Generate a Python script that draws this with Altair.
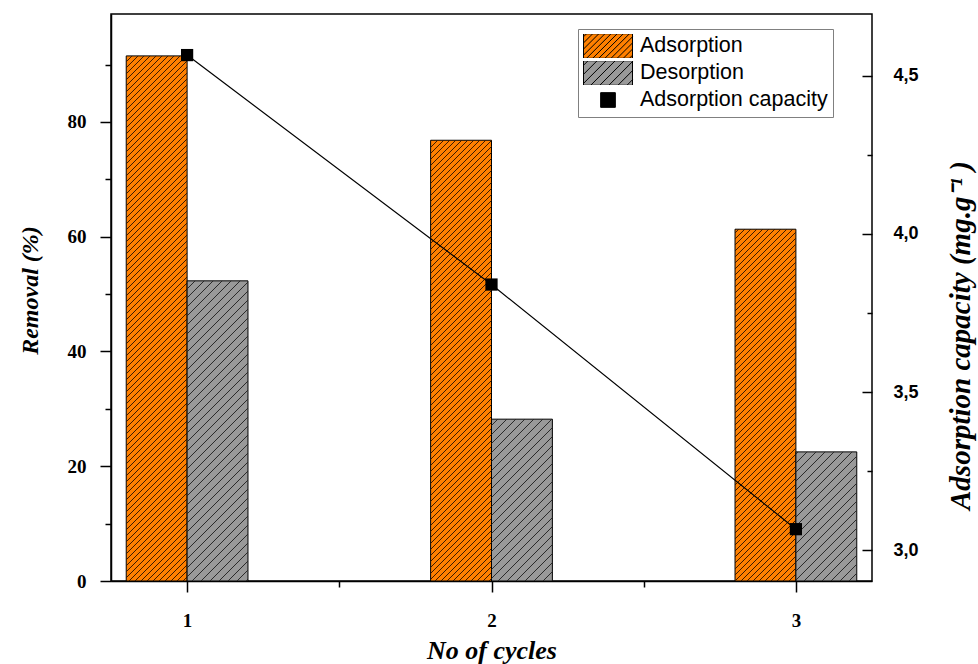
import altair as alt
import pandas as pd

# ---- data -------------------------------------------------------------
cycles = [1, 2, 3]
adsorption = [91.5, 76.8, 61.3]          # removal (%) during adsorption
desorption = [52.3, 28.2, 22.5]          # removal (%) during desorption
capacity = [4.566, 3.84, 3.066]          # adsorption capacity (mg/g)
series_names = ["Adsorption", "Desorption", "Adsorption capacity"]

cycle_ticks = [1, 1.5, 2, 2.5, 3]
removal_ticks = [0, 10, 20, 30, 40, 50, 60, 70, 80, 90]
capacity_ticks = [3.0, 3.25, 3.5, 3.75, 4.0, 4.25, 4.5]

# ---- layout / style ---------------------------------------------------
W, H = 761, 567
X_DOMAIN = [0.75, 3.25]
REMOVAL_DOMAIN = [0, 98.8]
CAPACITY_DOMAIN = [2.902, 4.696]
BAR_W = 0.2
PX_X = W / (X_DOMAIN[1] - X_DOMAIN[0])
PX_Y = H / (REMOVAL_DOMAIN[1] - REMOVAL_DOMAIN[0])

ORANGE = "#FF8000"
GREY = "#999999"
SERIF = "Liberation Serif"
SANS = "Liberation Sans"


def bar_frame(values, side):
    rows = []
    for c, v in zip(cycles, values):
        x0 = c - BAR_W if side == "left" else c
        rows.append({"x0": x0, "x1": x0 + BAR_W, "value": v, "base": 0})
    return pd.DataFrame(rows)


def hatch_frame(bars, spacing):
    """Diagonal '/' hatch segments clipped to each bar, in data units."""
    rows = []
    for _, b in bars.iterrows():
        w = (b.x1 - b.x0) * PX_X
        h = b.value * PX_Y
        phase = ((b.x0 - X_DOMAIN[0]) * PX_X) % spacing
        k = phase - spacing * (int((w + phase) // spacing) + 1)
        while k < h:
            sx, sy = (0.0, k) if k >= 0 else (-k, 0.0)
            ex = min(w, h - k)
            ey = ex + k
            if ex > sx:
                rows.append({
                    "hx": b.x0 + sx / PX_X, "hx2": b.x0 + ex / PX_X,
                    "hy": sy / PX_Y, "hy2": ey / PX_Y,
                })
            k += spacing
    return pd.DataFrame(rows)


def hatch_symbol(step):
    """Legend swatch: 2:1 rectangle with '/' hatching (unit symbol box)."""
    parts = ["M-1,-0.5H1V0.5H-1Z"]
    c = -1.5 + step / 2
    while c < 1.5:
        a = max(-1.0, c - 0.5)
        b = min(1.0, c + 0.5)
        parts.append(f"M{a:.3f},{c - a:.3f}L{b:.3f},{c - b:.3f}")
        c += step
    return "".join(parts)


ads_df = bar_frame(adsorption, "left")
des_df = bar_frame(desorption, "right")
ads_hatch = hatch_frame(ads_df, 6)
des_hatch = hatch_frame(des_df, 9)
cap_df = pd.DataFrame({"cycle": cycles, "capacity": capacity})
legend_df = pd.DataFrame({
    "cycle": cycles + cycles,
    "value": adsorption + desorption,
    "series": ["Adsorption"] * 3 + ["Desorption"] * 3,
})


def minor_dash(test, length):
    return {"condition": {"test": test, "value": [length, 40]}, "value": []}


x_axis = alt.Axis(
    values=cycle_ticks,
    labelExpr="datum.value % 1 === 0 ? format(datum.value, 'd') : ''",
    tickDash=minor_dash("datum.value % 1 !== 0", 6), tickSize=11,
    tickColor="black", tickWidth=1.5, domainColor="black", domainWidth=1.5,
    labelPadding=19, labelFont=SERIF, labelFontWeight="bold", labelFontSize=19,
    labelColor="black", labelFlush=False, labelOverlap=False, grid=False,
    title="No of cycles", titleFont=SERIF, titleFontStyle="italic",
    titleFontWeight="bold", titleFontSize=26, titleColor="black",
    titleX=W / 2, titleY=69, titleBaseline="middle",
)

left_axis = alt.Axis(
    orient="left", values=removal_ticks,
    labelExpr="datum.value % 20 === 0 ? datum.label : ''",
    tickDash=minor_dash("datum.value % 20 !== 0", 6), tickSize=11,
    tickColor="black", tickWidth=1.5, domainColor="black", domainWidth=1.5,
    labelPadding=14, labelFont=SERIF, labelFontWeight="bold", labelFontSize=19,
    labelColor="black", labelOverlap=False, grid=False,
    title="Removal (%)", titleFont=SERIF, titleFontStyle="italic",
    titleFontWeight="bold", titleFontSize=24, titleColor="black",
    titleX=-81, titleY=276, titleBaseline="middle",
)

# capacity axis: labels and title outside the right frame edge ...
right_label_axis = alt.Axis(
    orient="right", values=capacity_ticks, ticks=False, domain=False,
    labelExpr="abs(datum.value * 2 - round(datum.value * 2)) < 0.01 ? "
              "replace(format(datum.value, '.1f'), '.', ',') : ''",
    labelAlign="left", labelPadding=21, labelFont=SANS, labelFontWeight="bold",
    labelFontSize=18, labelColor="black", labelOverlap=False, grid=False,
    title="Adsorption capacity (mg.g⁻¹ )", titleFont=SERIF, titleFontStyle="italic",
    titleFontWeight="bold", titleFontSize=29, titleColor="black",
    titleX=88, titleY=321, titleBaseline="middle", titleAngle=270,
)
# ... and its ticks drawn on the same edge, pointing into the plot
right_tick_axis = alt.Axis(
    orient="left", offset=-W, values=capacity_ticks, labels=False, domain=False,
    tickDash=minor_dash("abs(datum.value * 2 - round(datum.value * 2)) > 0.01", 5),
    tickSize=10, tickColor="black", tickWidth=1.5, grid=False, title=None, zindex=1,
)

x_scale = alt.Scale(domain=X_DOMAIN, nice=False, zero=False)
left_scale = alt.Scale(domain=REMOVAL_DOMAIN, nice=False, zero=False)
right_scale = alt.Scale(domain=CAPACITY_DOMAIN, nice=False, zero=False)


def bars(df, fill):
    return alt.Chart(df).mark_rect(fill=fill, stroke="black", strokeWidth=1).encode(
        x=alt.X("x0:Q", scale=x_scale, axis=x_axis),
        x2="x1:Q",
        y=alt.Y("value:Q", scale=left_scale, axis=left_axis),
        y2="base:Q",
    )


def hatch(df, color):
    return alt.Chart(df).mark_rule(stroke=color, strokeWidth=1).encode(
        x=alt.X("hx:Q", scale=x_scale, axis=x_axis),
        x2="hx2:Q",
        y=alt.Y("hy:Q", scale=left_scale, axis=left_axis),
        y2="hy2:Q",
    )


legend = alt.Legend(
    title=None, orient="none", legendX=467, legendY=15, direction="vertical",
    padding=5, rowPadding=3, clipHeight=24, symbolSize=2401, labelOffset=7,
    labelFont=SANS, labelFontSize=21.5, labelColor="black", labelLimit=400,
    strokeColor="#808080", fillColor="white", symbolStrokeWidth=1,
    symbolOpacity=1,
)

legend_driver = alt.Chart(legend_df).mark_point(
    filled=True, size=0, stroke="black", strokeWidth=1, opacity=1
).encode(
    x=alt.X("cycle:Q", scale=x_scale, axis=x_axis),
    y=alt.Y("value:Q", scale=left_scale, axis=left_axis),
    fill=alt.Fill("series:N", scale=alt.Scale(domain=series_names,
                  range=[ORANGE, GREY, "black"]), legend=legend),
    shape=alt.Shape("series:N", scale=alt.Scale(domain=series_names,
                    range=[hatch_symbol(0.25), hatch_symbol(0.37),
                           "M-0.3,-0.3H0.3V0.3H-0.3Z"]), legend=legend),
)

removal_layer = alt.layer(
    bars(ads_df, ORANGE), hatch(ads_hatch, "#3a1a00"),
    bars(des_df, GREY), hatch(des_hatch, "#2a2a2a"),
    legend_driver,
)

cap_x = alt.X("cycle:Q", scale=x_scale, axis=x_axis)
capacity_line = alt.Chart(cap_df).mark_line(color="black", strokeWidth=1.2).encode(
    x=cap_x,
    y=alt.Y("capacity:Q", scale=right_scale, axis=right_tick_axis),
)
capacity_points = alt.Chart(cap_df).mark_point(
    shape="square", filled=True, size=150, color="black", opacity=1
).encode(
    x=cap_x,
    y=alt.Y("capacity:Q", scale=right_scale, axis=right_label_axis),
)
capacity_layer = alt.layer(capacity_line, capacity_points).resolve_axis(y="independent")

chart = alt.layer(removal_layer, capacity_layer).resolve_scale(
    y="independent"
).properties(
    width=W, height=H,
    autosize=alt.AutoSizeParams(type="none"),
    padding={"left": 111, "top": 14, "right": 106, "bottom": 83},
    background="white",
).configure_view(stroke="black", strokeWidth=1.5)

chart.save("out.html", embed_options={"renderer": "svg", "actions": False})
